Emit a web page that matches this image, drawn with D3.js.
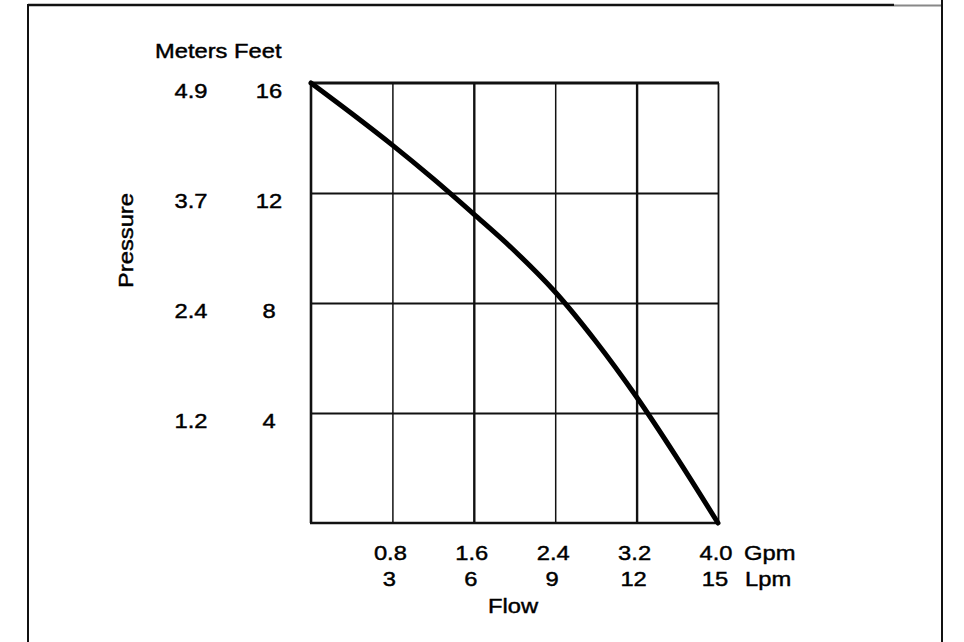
<!DOCTYPE html>
<html>
<head>
<meta charset="utf-8">
<script src="https://cdn.jsdelivr.net/npm/d3@7"></script>
<style>
  html, body { margin: 0; padding: 0; background: #fff; }
  svg { display: block; }
  text { font-family: "Liberation Sans", Arial, Helvetica, sans-serif; font-size: 21px; fill: #000; stroke: #000; stroke-width: 0.45px; }
</style>
</head>
<body>
<svg id="chart" width="964" height="642"></svg>
<script>
// ---- data ----
const flowGpm   = [0, 0.4, 0.8, 1.2, 1.6, 2.0, 2.4, 2.8, 3.2, 3.6, 4.0];
const headFeet  = [16, 14.89, 13.74, 12.52, 11.23, 9.9, 8.4, 6.6, 4.58, 2.35, 0];
const gpmTicks  = [0.8, 1.6, 2.4, 3.2, 4.0];
const gpmLabels = ["0.8", "1.6", "2.4", "3.2", "4.0"];
const lpmLabels = ["3", "6", "9", "12", "15"];
const feetTicks = [16, 12, 8, 4];
const feetLabels = ["16", "12", "8", "4"];
const meterLabels = ["4.9", "3.7", "2.4", "1.2"];

// ---- layout ----
const svg = d3.select("#chart");
const L = 311, R = 718, T = 83, B = 523;
const x = d3.scaleLinear().domain([0, 4]).range([L, R]);
const y = d3.scaleLinear().domain([0, 16]).range([B, T]);
const ink = "#111";
const SX = 1.13;

// outer page frame
svg.append("line").attr("x1", 28).attr("x2", 28).attr("y1", 4).attr("y2", 642)
  .attr("stroke", ink).attr("stroke-width", 2);
svg.append("line").attr("x1", 28).attr("x2", 894).attr("y1", 5).attr("y2", 5)
  .attr("stroke", ink).attr("stroke-width", 2.5);
svg.append("line").attr("x1", 894).attr("x2", 942).attr("y1", 5.5).attr("y2", 5.5)
  .attr("stroke", "#888").attr("stroke-width", 2);
svg.append("line").attr("x1", 942).attr("x2", 942).attr("y1", 0).attr("y2", 642)
  .attr("stroke", ink).attr("stroke-width", 2);

// vertical grid via axis
const gx = svg.append("g").attr("transform", `translate(0,${B})`)
  .call(d3.axisBottom(x).tickValues(gpmTicks).tickSize(-(B - T)).tickFormat(""));
gx.select(".domain").remove();
gx.selectAll(".tick line").attr("stroke", ink)
  .attr("stroke-width", (d, i) => (i % 2 === 1 ? 2.4 : (d === 4 ? 1.8 : 1.5)));

// horizontal grid via axis
const gy = svg.append("g").attr("transform", `translate(${L},0)`)
  .call(d3.axisLeft(y).tickValues(feetTicks.slice(1)).tickSize(-(R - L)).tickFormat(""));
gy.select(".domain").remove();
gy.selectAll(".tick line").attr("stroke", ink).attr("stroke-width", 2);

// plot frame
svg.append("line").attr("x1", L - 1).attr("x2", R + 1).attr("y1", y(16)).attr("y2", y(16))
  .attr("stroke", ink).attr("stroke-width", 2.8);
svg.append("line").attr("x1", x(0)).attr("x2", x(0)).attr("y1", T).attr("y2", B)
  .attr("stroke", ink).attr("stroke-width", 2.6);
svg.append("line").attr("x1", L - 1).attr("x2", R + 1).attr("y1", y(0)).attr("y2", y(0))
  .attr("stroke", ink).attr("stroke-width", 2.6);

// curve
const pts = flowGpm.map((g, i) => [g, headFeet[i]]);
svg.append("path").datum(pts)
  .attr("fill", "none").attr("stroke", "#000").attr("stroke-width", 5)
  .attr("stroke-linejoin", "round").attr("stroke-linecap", "round")
  .attr("d", d3.line().x(d => x(d[0])).y(d => y(d[1])).curve(d3.curveCatmullRom.alpha(0.5)));

// text helper (scan text is horizontally wide)
function label(txt, tx, ty, anchor, rot) {
  svg.append("text")
    .attr("transform", `translate(${tx},${ty})` + (rot ? ` rotate(${rot})` : "") + ` scale(${SX},1)`)
    .attr("text-anchor", anchor || "middle")
    .text(txt);
}

// y labels
label("Meters Feet", 155, 58, "start");
feetTicks.forEach((f, i) => {
  label(meterLabels[i], 191, y(f) + 15, "middle");
  label(feetLabels[i], 269, y(f) + 15, "middle");
});
label("Pressure", 133, 240.5, "middle", -90);

// x labels
gpmTicks.forEach((g, i) => {
  label(gpmLabels[i], x(g) - 2, 560, "middle");
  label(lpmLabels[i], x(g) - 3, 586, "middle");
});
label("Gpm", 744, 560, "start");
label("Lpm", 745, 586, "start");
label("Flow", 513, 613, "middle");
</script>
</body>
</html>
